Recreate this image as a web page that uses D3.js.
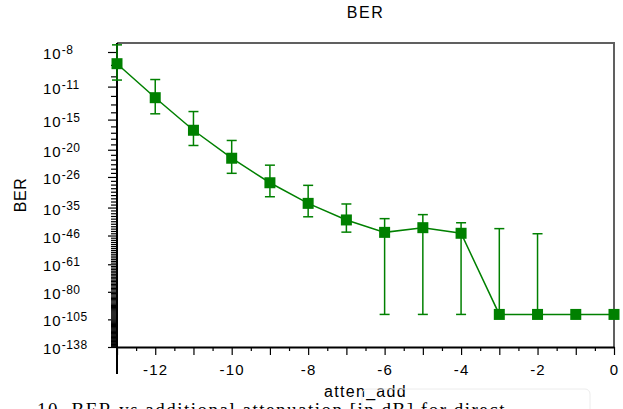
<!DOCTYPE html>
<html>
<head>
<meta charset="utf-8">
<script src="https://cdn.jsdelivr.net/npm/d3@7"></script>
<style>
	body { margin: 0; background: #fff; }
	svg { display: block; font-family: 'Liberation Sans', Arial, sans-serif; }
</style>
</head>
<body>
<svg id="chart" width="623" height="409"></svg>
<script>
	//Data------------------------------------------------------------------
	var atten = [-13, -12, -11, -10, -9, -8, -7, -6, -5, -4, -3, -2, -1, 0];
	//log10(BER) of each point
	var berExp = [-8.9, -12.2, -16.6, -21.7, -27.5, -33.6, -39.5, -44.6, -42.6, -45.0, -100, -100, -100, -100];
	//log10 of the error bar ends (null = no bar)
	var errHiExp = [-7.5, -10.3, -13.9, -18.3, -23.2, -28.2, -33.8, -39.0, -37.5, -40.6, -43.0, -45.2, null, null];
	var errLoExp = [-10.35, -14.2, -19.2, -25.1, -31.5, -38.3, -44.5, -100, -100, -100, -100, -100, null, null];
	var yTickExp = [8, 11, 15, 20, 26, 35, 46, 61, 80, 105, 138];
	var xTickLabels = [-12, -10, -8, -6, -4, -2, 0];

	var green = '#008000';
	var margin = { top: 43, right: 9, bottom: 62, left: 117 };
	var W = 623 - margin.left - margin.right;
	var H = 409 - margin.top - margin.bottom;

	var svg = d3.select('#chart');
	var g = svg.append('g').attr('transform', 'translate(' + margin.left + ',' + margin.top + ')');

	//Scales----------------------------------------------------------------
	//the axis is log of (-log10 BER), with a small shift
	var expShift = 0.7;
	var x = d3.scaleLinear().domain([-13, 0]).range([0, W]);
	var y = d3.scaleLog().domain([8 - expShift, 138 - expShift]).range([9, H]);
	function yPos(e) { return y(-e - expShift); }

	//frame (top and right)
	g.append('path')
		.attr('d', 'M0,0H' + W + 'V' + H)
		.attr('fill', 'none')
		.attr('stroke', '#606060')
		.attr('stroke-width', 2);

	//Axes------------------------------------------------------------------
	var minorExp = d3.range(9, 138).filter(function (e) { return yTickExp.indexOf(e) < 0; });
	var yMinor = g.append('g')
		.call(d3.axisLeft(y).tickValues(minorExp.map(function (e) { return e - expShift; }))
			.tickSize(6).tickSizeOuter(0).tickFormat(''));
	var yMajor = g.append('g')
		.call(d3.axisLeft(y).tickValues(yTickExp.map(function (e) { return e - expShift; }))
			.tickSize(9).tickSizeOuter(0).tickFormat(''));
	[yMinor, yMajor].forEach(function (a) {
		a.select('.domain').remove();
		a.selectAll('line').attr('stroke', '#000').attr('stroke-width', 1.2);
	});
	g.append('line')
		.attr('x1', 0).attr('x2', 0).attr('y1', 0).attr('y2', H + 27)
		.attr('stroke', '#000').attr('stroke-width', 2);

	//y tick labels: 10 with superscript exponent
	var ylab = g.append('g').selectAll('text')
		.data(yTickExp)
		.enter()
		.append('text')
		.attr('x', -74)
		.attr('y', function (d) { return y(d - expShift) + 7; })
		.attr('font-size', 15)
		.attr('letter-spacing', 1)
		.attr('fill', '#000');
	ylab.append('tspan').text('10');
	ylab.append('tspan')
		.attr('dy', -5)
		.attr('font-size', 12)
		.attr('letter-spacing', 0.5)
		.text(function (d) { return '-' + d; });

	var xMinor = g.append('g')
		.attr('transform', 'translate(0,' + H + ')')
		.call(d3.axisBottom(x).tickValues(d3.range(-12.5, 0, 1)).tickSize(4).tickSizeOuter(0).tickFormat(''));
	var xMajor = g.append('g')
		.attr('transform', 'translate(0,' + H + ')')
		.call(d3.axisBottom(x).tickValues(d3.range(-13, 1, 1)).tickSize(8).tickSizeOuter(0)
			.tickFormat(function (d) { return xTickLabels.indexOf(d) >= 0 ? d : ''; }));
	xMinor.select('.domain').remove();
	xMajor.select('.domain').attr('stroke', '#000').attr('stroke-width', 2);
	[xMinor, xMajor].forEach(function (a) {
		a.selectAll('line').attr('stroke', '#000').attr('stroke-width', 1.2);
	});
	xMajor.selectAll('text')
		.attr('font-size', 15)
		.attr('letter-spacing', 1.2)
		.attr('font-family', "'Liberation Sans', Arial, sans-serif")
		.attr('fill', '#000')
		.attr('dy', 0)
		.attr('y', 28)
		.text(function (d) { return xTickLabels.indexOf(d) >= 0 ? String(d).replace('\u2212', '-') : ''; });

	//Titles----------------------------------------------------------------
	svg.append('text')
		.attr('x', margin.left + W / 2).attr('y', 18)
		.attr('text-anchor', 'middle').attr('font-size', 16).attr('letter-spacing', 1.5)
		.text('BER');
	svg.append('text')
		.attr('transform', 'translate(26,195) rotate(-90)')
		.attr('text-anchor', 'middle').attr('font-size', 16).attr('letter-spacing', 0.5)
		.text('BER');
	svg.append('text')
		.attr('x', margin.left + W / 2).attr('y', 397)
		.attr('text-anchor', 'middle').attr('font-size', 16).attr('letter-spacing', 1.3)
		.text('atten_add');

	//faint popup box and clipped caption below the chart
	svg.append('rect')
		.attr('x', 362).attr('y', 389).attr('width', 228).attr('height', 30).attr('rx', 5)
		.attr('fill', 'none').attr('stroke', '#ececec');
	svg.append('text')
		.attr('x', 37).attr('y', 416)
		.attr('font-size', 19).attr('font-family', "'Liberation Serif', serif")
		.attr('letter-spacing', 1.5)
		.text('10. BER vs additional attenuation [in dB] for direct ...');

	//Series----------------------------------------------------------------
	var pts = atten.map(function (a, i) {
		return { x: a, e: berExp[i], hi: errHiExp[i], lo: errLoExp[i] };
	});

	g.append('path')
		.datum(pts)
		.attr('fill', 'none')
		.attr('stroke', green)
		.attr('stroke-width', 1.5)
		.attr('d', d3.line()
			.x(function (d) { return x(d.x); })
			.y(function (d) { return yPos(d.e); }));

	var bars = g.append('g')
		.attr('stroke', green)
		.attr('stroke-width', 1.5)
		.selectAll('g')
		.data(pts.filter(function (d) { return d.hi !== null; }))
		.enter()
		.append('g');
	bars.append('line')
		.attr('x1', function (d) { return x(d.x); })
		.attr('x2', function (d) { return x(d.x); })
		.attr('y1', function (d) { return Math.max(yPos(d.hi), 1); })
		.attr('y2', function (d) { return yPos(d.lo); });
	bars.append('line')
		.attr('x1', function (d) { return x(d.x) - 5; })
		.attr('x2', function (d) { return x(d.x) + 5; })
		.attr('y1', function (d) { return Math.max(yPos(d.hi), 1); })
		.attr('y2', function (d) { return Math.max(yPos(d.hi), 1); });
	bars.append('line')
		.attr('x1', function (d) { return x(d.x) - 5; })
		.attr('x2', function (d) { return x(d.x) + 5; })
		.attr('y1', function (d) { return yPos(d.lo); })
		.attr('y2', function (d) { return yPos(d.lo); });

	g.append('g')
		.selectAll('rect')
		.data(pts)
		.enter()
		.append('rect')
		.attr('x', function (d) { return x(d.x) - 5.5; })
		.attr('y', function (d) { return yPos(d.e) - 5.5; })
		.attr('width', 11)
		.attr('height', 11)
		.attr('fill', green);
</script>
</body>
</html>
